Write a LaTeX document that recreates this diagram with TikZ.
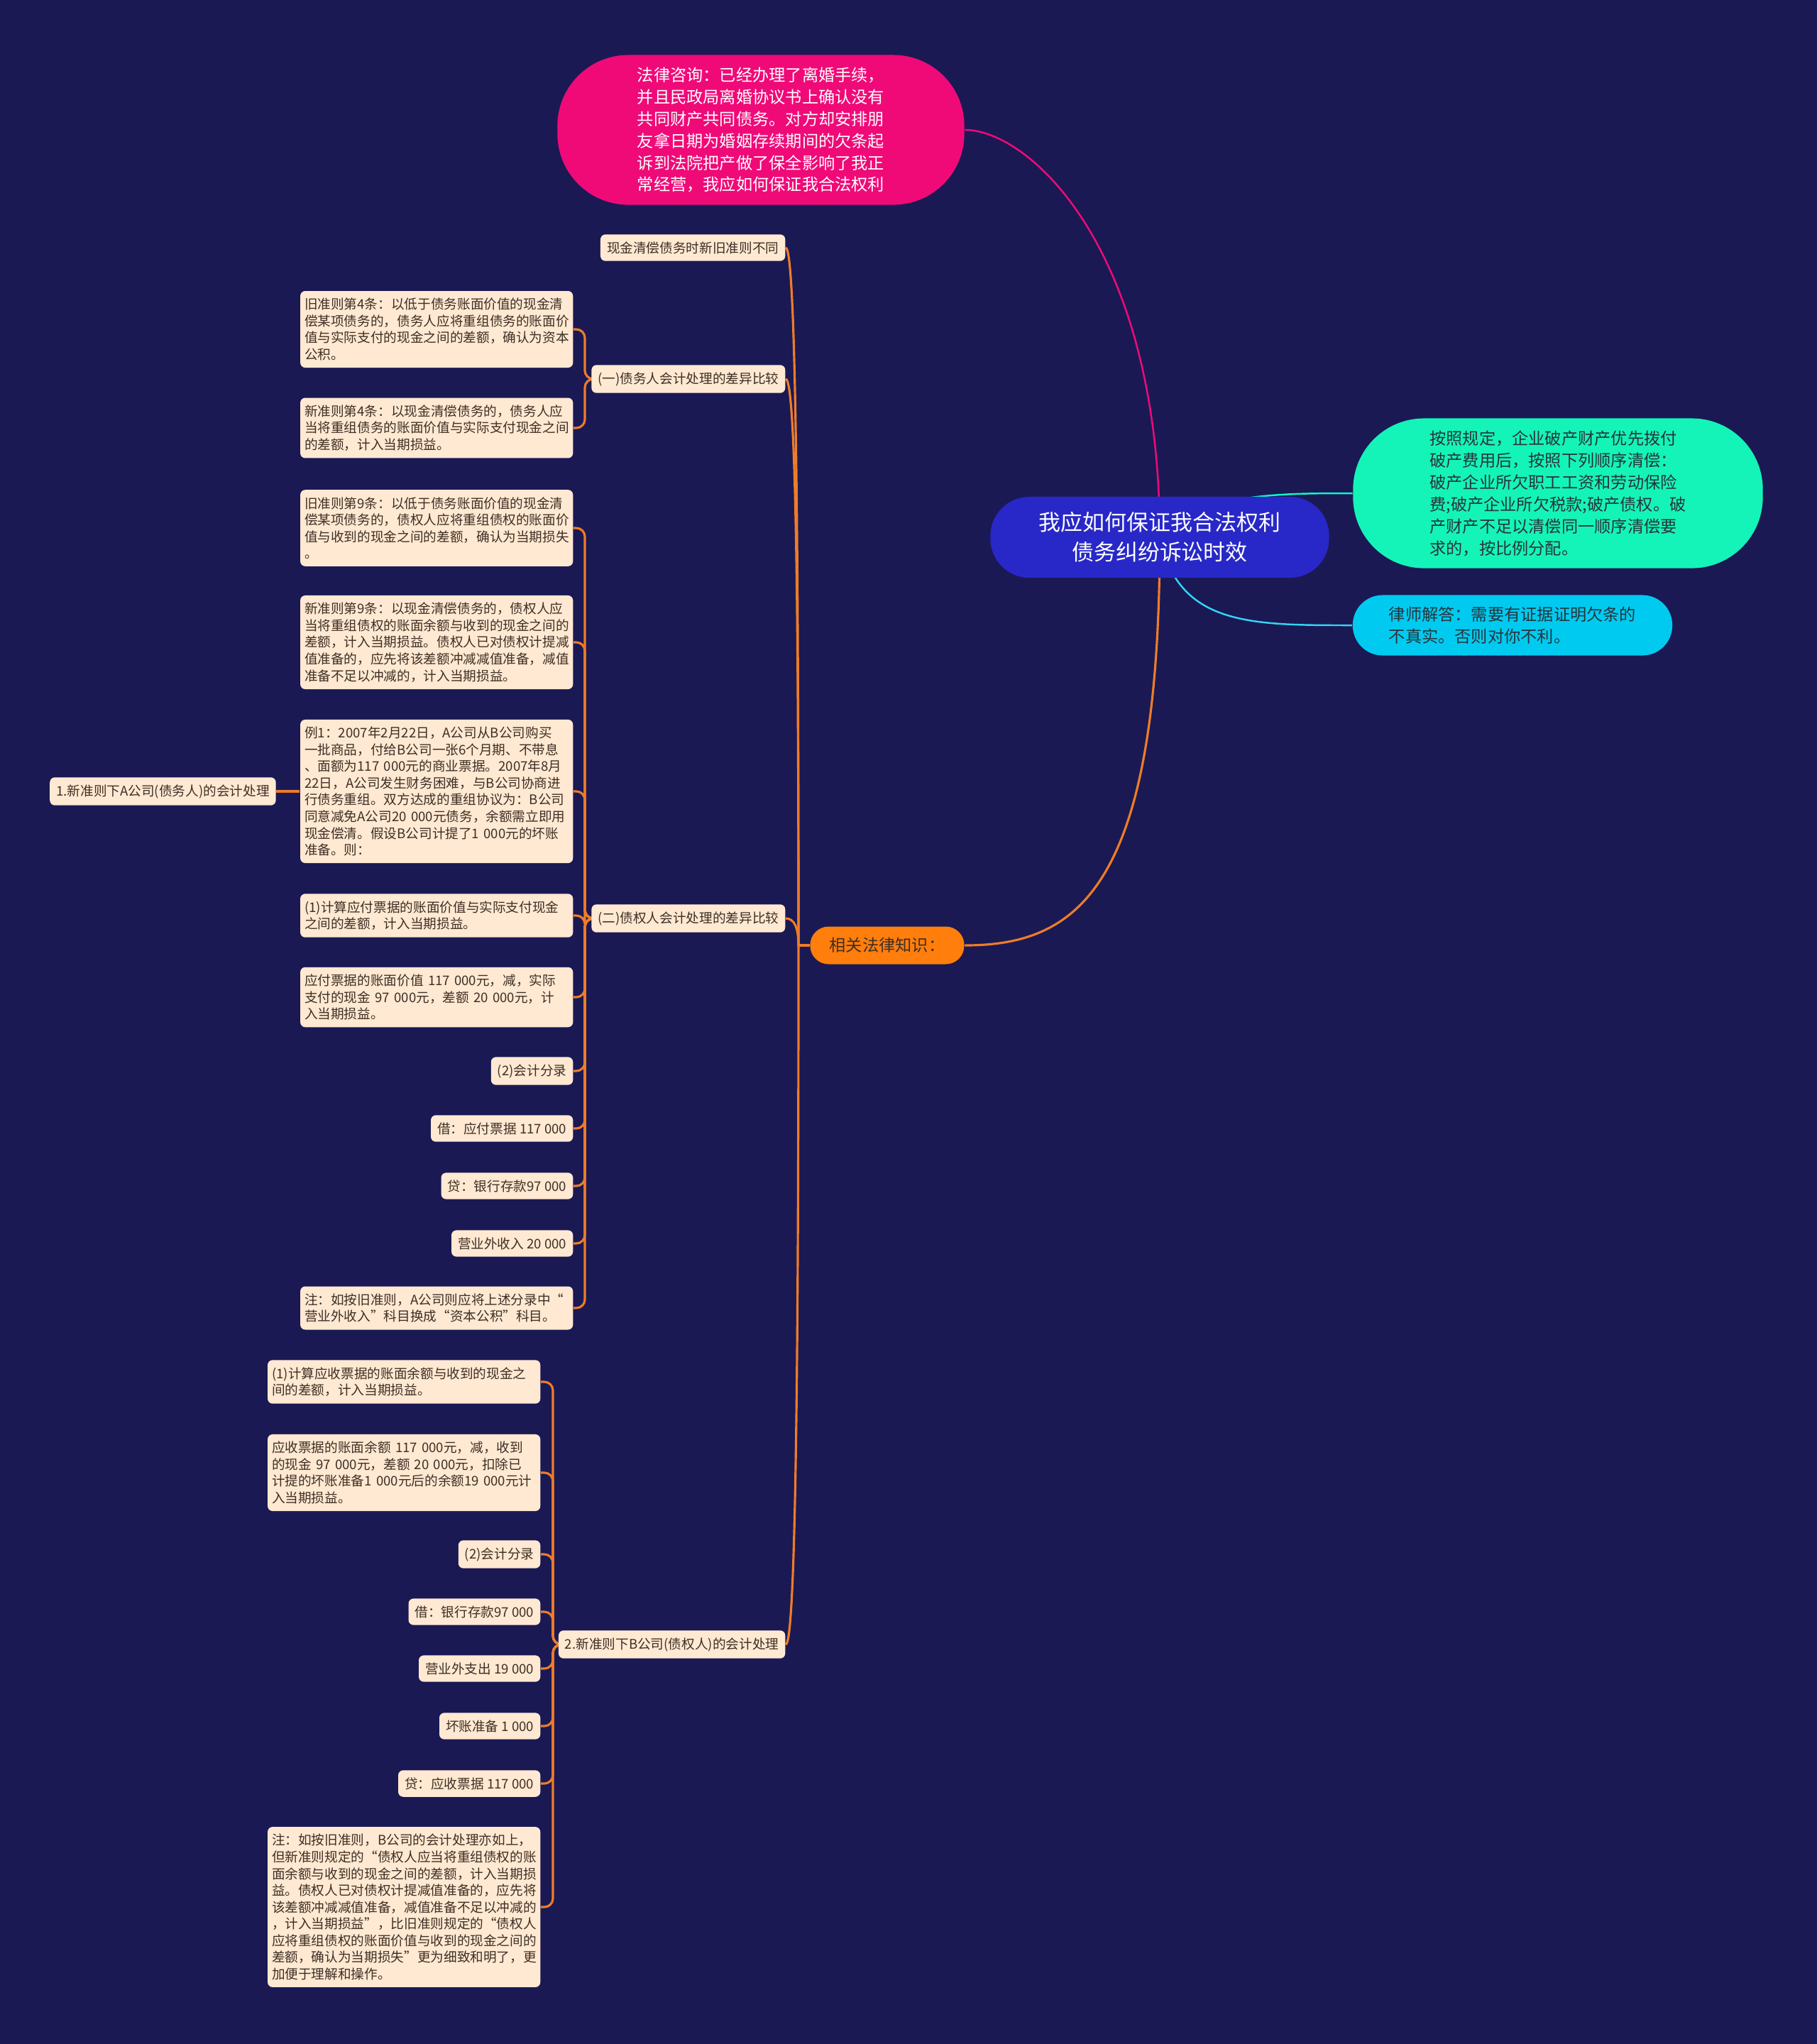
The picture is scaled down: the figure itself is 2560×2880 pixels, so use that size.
\documentclass[tikz,border=0pt]{standalone}
\usepackage{fontspec}
\setmainfont{Noto Sans CJK SC}
\usetikzlibrary{positioning}

\definecolor{bgnavy}{RGB}{26,25,84}
\definecolor{askpink}{RGB}{240,10,120}
\definecolor{rootblue}{RGB}{40,40,200}
\definecolor{rulegreen}{RGB}{20,244,184}
\definecolor{replycyan}{RGB}{0,202,240}
\definecolor{knoworange}{RGB}{255,126,12}
\definecolor{linkor}{RGB}{238,124,40}
\definecolor{leafbg}{RGB}{255,233,210}
\definecolor{leaftxt}{RGB}{62,46,36}
\definecolor{darktxt}{RGB}{40,52,58}

\pgfdeclarelayer{back}
\pgfdeclarelayer{links}
\pgfsetlayers{back,links,main}

\newcommand\leaffont{\fontsize{5.3}{6.7}\selectfont}
\newcommand\pillfont{\fontsize{6.6}{8.8}\selectfont}
\newcommand\rootfont{\fontsize{8.8}{12}\selectfont}

\begin{document}
\begin{tikzpicture}[x=0.01cm, y=-0.01cm,
  leaf/.style={fill=leafbg, text=leaftxt, rounded corners=0.07cm, inner xsep=0.09cm, inner ysep=0.1cm, font=\leaffont, anchor=east},
  leafw/.style={leaf, text width=3.72cm, inner xsep=0.06cm, align=left},
  pill/.style={align=left, inner sep=0pt, font=\pillfont},
  link/.style={draw=linkor, line width=0.9pt},
  elbow/.style={link, rounded corners=0.12cm}]

\begin{pgfonlayer}{back}
\fill[bgnavy] (0,0) rectangle (2560,2880);
\end{pgfonlayer}

% centre and the four big nodes
\node[align=center, inner sep=0pt, font=\rootfont, text=white, fill=rootblue, rounded corners=0.55cm, minimum width=4.77cm, minimum height=1.14cm] (root) at (1634,757) {我应如何保证我合法权利\\债务纠纷诉讼时效};
\node[pill, text=white, fill=askpink, rounded corners=1cm, minimum width=5.73cm, minimum height=2.11cm] (ask) at (1072,183) {法律咨询：已经办理了离婚手续，\\并且民政局离婚协议书上确认没有\\共同财产共同债务。对方却安排朋\\友拿日期为婚姻存续期间的欠条起\\诉到法院把产做了保全影响了我正\\常经营，我应如何保证我合法权利};
\node[pill, text=darktxt, fill=rulegreen, rounded corners=1cm, minimum width=5.77cm, minimum height=2.11cm] (rule) at (2195,695) {按照规定，企业破产财产优先拨付\\破产费用后，按照下列顺序清偿：\\破产企业所欠职工工资和劳动保险\\费;破产企业所欠税款;破产债权。破\\产财产不足以清偿同一顺序清偿要\\求的，按比例分配。};
\node[pill, text=darktxt, fill=replycyan, rounded corners=0.42cm, minimum width=4.5cm, minimum height=0.85cm] (reply) at (2131,881) {律师解答：需要有证据证明欠条的\\不真实。否则对你不利。};
\node[pill, text=leaftxt, fill=knoworange, rounded corners=0.26cm, minimum width=2.17cm, minimum height=0.53cm] (know) at (1250,1332) {相关法律知识：};
\coordinate (hub) at (1125,1332);

% first level under the orange node
\node[leaf] (cash) at (1107,349) {现金清偿债务时新旧准则不同};
\node[leaf] (debtor) at (1107,534) {(一)债务人会计处理的差异比较};
\node[leaf] (creditor) at (1107,1294) {(二)债权人会计处理的差异比较};
\node[leaf] (bside) at (1107,2317) {2.新准则下B公司(债权人)的会计处理};

% debtor side
\node[leafw] (oldfour) at (808,464) {旧准则第4条：以低于债务账面价值的现金清\\偿某项债务的，债务人应将重组债务的账面价\\值与实际支付的现金之间的差额，确认为资本\\公积。};
\node[leafw] (newfour) at (808,603) {新准则第4条：以现金清偿债务的，债务人应\\当将重组债务的账面价值与实际支付现金之间\\的差额，计入当期损益。};

% creditor side
\node[leafw] (oldnine) at (808,744) {旧准则第9条：以低于债务账面价值的现金清\\偿某项债务的，债权人应将重组债权的账面价\\值与收到的现金之间的差额，确认为当期损失\\。};
\node[leafw] (newnine) at (808,905) {新准则第9条：以现金清偿债务的，债权人应\\当将重组债权的账面余额与收到的现金之间的\\差额，计入当期损益。债权人已对债权计提减\\值准备的，应先将该差额冲减减值准备，减值\\准备不足以冲减的，计入当期损益。};
\node[leafw] (example) at (808,1115) {例1：2007年2月22日，A公司从B公司购买\\一批商品，付给B公司一张6个月期、不带息\\、面额为117~000元的商业票据。2007年8月\\22日，A公司发生财务困难，与B公司协商进\\行债务重组。双方达成的重组协议为：B公司\\同意减免A公司20~000元债务，余额需立即用\\现金偿清。假设B公司计提了1~000元的坏账\\准备。则：};
\node[leaf, left=0.33cm of example] (aside) {1.新准则下A公司(债务人)的会计处理};
\node[leafw] (calcpay) at (808,1290) {(1)计算应付票据的账面价值与实际支付现金\\之间的差额，计入当期损益。};
\node[leafw] (paydiff) at (808,1405) {应付票据的账面价值~117~000元，减，实际\\支付的现金~97~000元，差额~20~000元，计\\入当期损益。};
\node[leaf] (entrya) at (808,1509) {(2)会计分录};
\node[leaf] (dra) at (808,1590) {借：应付票据 117~000};
\node[leaf] (cra) at (808,1671) {贷：银行存款97~000};
\node[leaf] (incomea) at (808,1752) {营业外收入 20~000};
\node[leafw] (notea) at (808,1843) {注：如按旧准则，A公司则应将上述分录中“\\营业外收入”科目换成“资本公积”科目。};

% B company
\node[leafw] (calcrec) at (762,1947) {(1)计算应收票据的账面余额与收到的现金之\\间的差额，计入当期损益。};
\node[leafw] (recdiff) at (762,2075) {应收票据的账面余额~117~000元，减，收到\\的现金~97~000元，差额~20~000元，扣除已\\计提的坏账准备1~000元后的余额19~000元计\\入当期损益。};
\node[leaf] (entryb) at (762,2190) {(2)会计分录};
\node[leaf] (drb) at (762,2271) {借：银行存款97~000};
\node[leaf] (lossb) at (762,2351) {营业外支出 19~000};
\node[leaf] (baddebt) at (762,2432) {坏账准备 1~000};
\node[leaf] (crb) at (762,2513) {贷：应收票据 117~000};
\node[leafw] (noteb) at (762,2687) {注：如按旧准则，B公司的会计处理亦如上，\\但新准则规定的“债权人应当将重组债权的账\\面余额与收到的现金之间的差额，计入当期损\\益。债权人已对债权计提减值准备的，应先将\\该差额冲减减值准备，减值准备不足以冲减的\\，计入当期损益”，比旧准则规定的“债权人\\应将重组债权的账面价值与收到的现金之间的\\差额，确认为当期损失”更为细致和明了，更\\加便于理解和操作。};

\begin{pgfonlayer}{links}
\draw[askpink, line width=0.7pt] (root.center) .. controls (1634,350) and (1450,183) .. (ask.east);
\draw[rulegreen!80!cyan, line width=0.7pt] (root.center) .. controls (1690,695) and (1800,695) .. (rule.west);
\draw[replycyan!80!white, line width=0.7pt] (root.center) .. controls (1660,881) and (1760,881) .. (reply.west);
\draw[link] (root.center) .. controls (1634,1250) and (1520,1332) .. (know.east);

\draw[link] (know.west) -- (hub);
\draw[link] (hub) .. controls +(0,-600) and +(14,0) .. (cash.east);
\draw[link] (hub) .. controls +(0,-500) and +(14,0) .. (debtor.east);
\draw[link] (hub) .. controls +(0,-25) and +(12,0) .. (creditor.east);
\draw[link] (hub) .. controls +(0,600) and +(14,0) .. (bside.east);

\foreach \k in {oldfour,newfour}
  \draw[elbow] (debtor.west) -- (824,534) |- (\k.east);
\foreach \k in {oldnine,newnine,example,calcpay,paydiff,entrya,dra,cra,incomea,notea}
  \draw[elbow] (creditor.west) -- (824,1294) |- (\k.east);
\draw[link] (example.west) -- (aside.east);
\foreach \k in {calcrec,recdiff,entryb,drb,lossb,baddebt,crb,noteb}
  \draw[elbow] (bside.west) -- (779,2317) |- (\k.east);
\end{pgfonlayer}

\end{tikzpicture}
\end{document}
